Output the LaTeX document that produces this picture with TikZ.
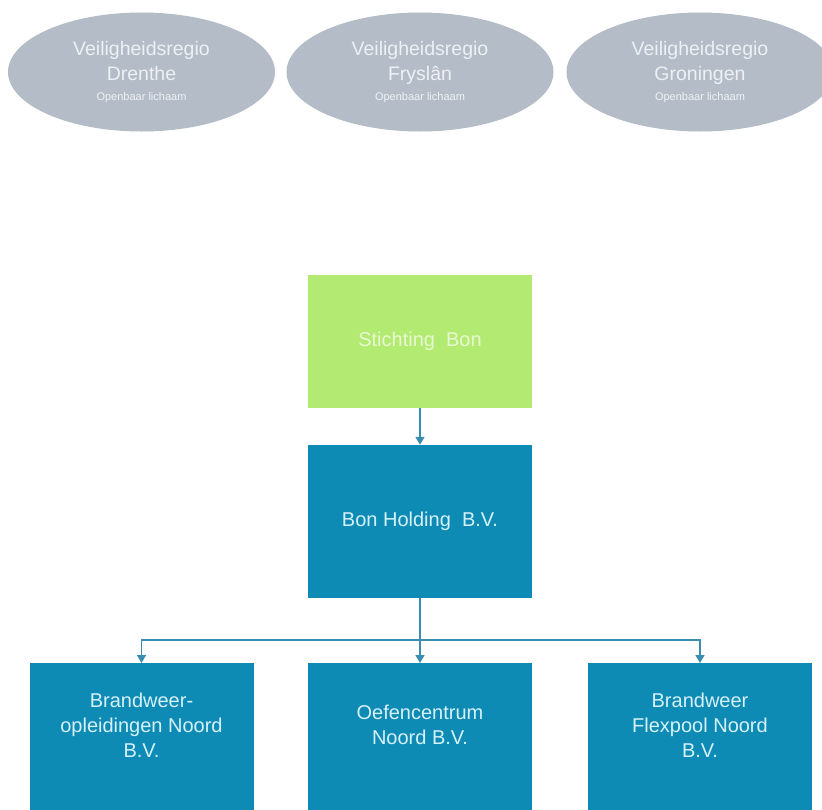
\documentclass[tikz,border=0pt]{standalone}
\usepackage{fontspec}
\setmainfont{Liberation Sans}
\usetikzlibrary{shapes.geometric,arrows.meta}
\definecolor{ellfill}{HTML}{B4BDC7}
\definecolor{elltext}{HTML}{EDF1F5}
\definecolor{grnfill}{HTML}{B3EA72}
\definecolor{grntext}{HTML}{E8F9D2}
\definecolor{blufill}{HTML}{0E8BB5}
\definecolor{blutext}{HTML}{D6F1FA}
\definecolor{conncol}{HTML}{3A8DB0}
\tikzset{
  region/.style={ellipse, fill=ellfill, draw=none, minimum width=267pt, minimum height=119pt,
    text=elltext, align=center, font=\fontsize{19.5}{25}\selectfont, inner sep=0pt},
  greenbox/.style={rectangle, fill=grnfill, draw=none, minimum width=224pt, minimum height=133pt,
    text=grntext, align=center, font=\fontsize{20}{25}\selectfont},
  bluebox/.style={rectangle, fill=blufill, draw=none, minimum width=224pt, minimum height=153pt,
    text=blutext, align=center, font=\fontsize{20}{25}\selectfont},
  subbox/.style={rectangle, fill=blufill, draw=none, minimum width=224pt, minimum height=160pt, anchor=north},
  subtext/.style={text=blutext, align=center, font=\fontsize{20}{25}\selectfont},
  conn/.style={draw=conncol, line width=1.5pt},
  arr/.style={conn, -{Triangle[length=8pt,width=9pt]}}
}
\begin{document}
\begin{tikzpicture}[x=1pt,y=-1pt]
\useasboundingbox (0,0) rectangle (822,809);
\begin{scope}
\clip (0,0) rectangle (822,809);
\node[region] (dr) at (141.5,72) {Veiligheidsregio\\Drenthe\\[-5pt]{\fontsize{11}{13}\selectfont Openbaar lichaam}};
\node[region] (fr) at (420,72) {Veiligheidsregio\\Fryslân\\[-5pt]{\fontsize{11}{13}\selectfont Openbaar lichaam}};
\node[region] (gr) at (700,72) {Veiligheidsregio\\Groningen\\[-5pt]{\fontsize{11}{13}\selectfont Openbaar lichaam}};

\node[greenbox] (sb) at (420,341.5) {Stichting\ \ Bon};
\node[bluebox] (hold) at (420,521.5) {Bon Holding\ \ B.V.};

\node[subbox] (b1) at (141.5,663) {};
\node[subbox] (b2) at (420,663) {};
\node[subbox] (b3) at (700,663) {};
\node[subtext] (t1) at ([yshift=-62pt]b1.north) {Brandweer-\\opleidingen Noord\\B.V.};
\node[subtext] (t2) at ([yshift=-62pt]b2.north) {Oefencentrum\\Noord B.V.};
\node[subtext] (t3) at ([yshift=-62pt]b3.north) {Brandweer\\Flexpool Noord\\B.V.};

\coordinate (j) at (420,640);
\draw[arr] (sb) -- (hold);
\draw[conn] (hold) -- (j);
\draw[arr] (j) -- (b2);
\draw[arr] (j) -| (b1);
\draw[arr] (j) -| (b3);
\end{scope}
\end{tikzpicture}
\end{document}
